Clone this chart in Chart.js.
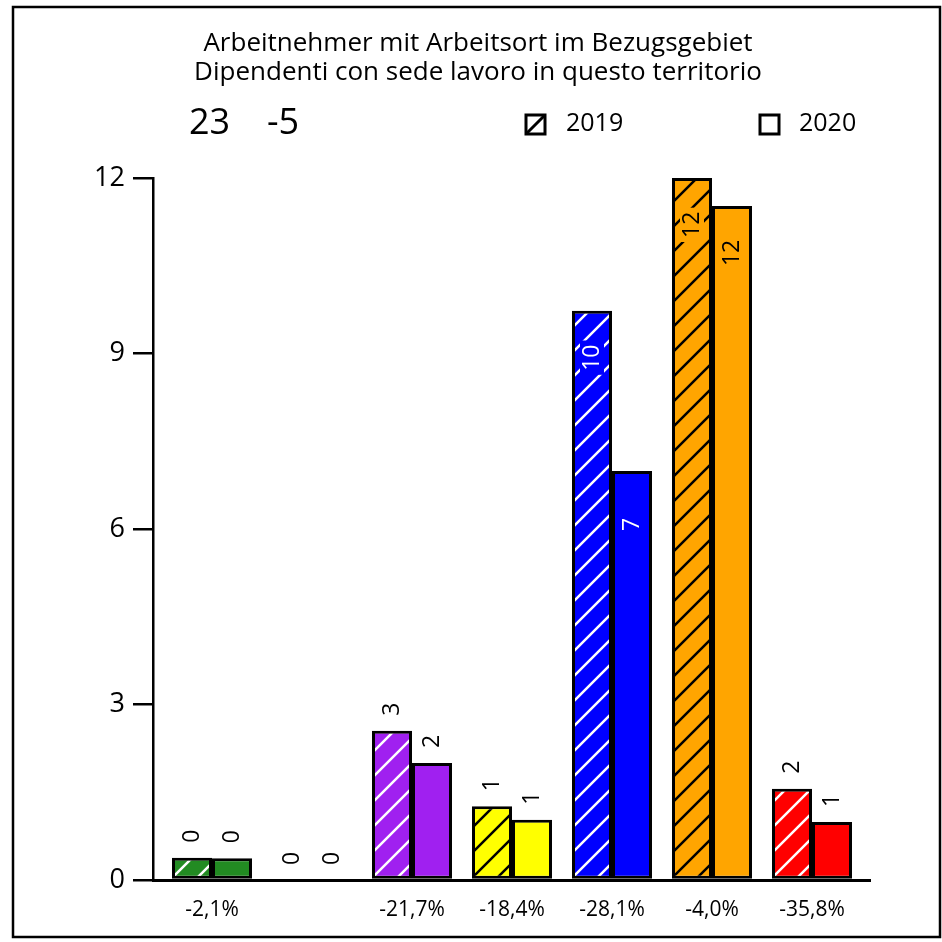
<!DOCTYPE html>
<html>
<head>
<meta charset="utf-8">
<script src="https://cdn.jsdelivr.net/npm/chart.js@4/dist/chart.umd.min.js"></script>
<style>
  html, body { margin: 0; padding: 0; background: #fff; }
</style>
</head>
<body>
<canvas id="chart" width="942" height="942"></canvas>
<script>
const FONT = '"Open Sans", "Noto Sans", sans-serif';

const titleLines = ['Arbeitnehmer mit Arbeitsort im Bezugsgebiet', 'Dipendenti con sede lavoro in questo territorio'];
const totalNow = '23';
const totalDiff = '-5';
const seriesNames = ['2019', '2020'];
const changeLabels = ['-2,1%', '', '-21,7%', '-18,4%', '-28,1%', '-4,0%', '-35,8%'];
const barColors = ['#228B22', '#999999', '#A020F0', '#FFFF00', '#0000FF', '#FFA500', '#FF0000'];
const inkColors = ['#FFFFFF', '#FFFFFF', '#FFFFFF', '#000000', '#FFFFFF', '#000000', '#FFFFFF'];
const values2019 = [0.38, 0, 2.55, 1.26, 9.73, 12.0, 1.56];
const values2020 = [0.37, 0, 2.0, 1.03, 6.99, 11.52, 0.99];
const yTicks = [0, 3, 6, 9, 12];

const canvas = document.getElementById('chart');
const ctx = canvas.getContext('2d');

function hatch(bg, fg) {
    const c = document.createElement('canvas');
    c.width = c.height = 25;
    const g = c.getContext('2d');
    g.fillStyle = bg;
    g.fillRect(0, 0, 25, 25);
    g.strokeStyle = fg;
    g.lineWidth = 2.5;
    g.beginPath();
    g.moveTo(-6, 31); g.lineTo(31, -6);
    g.moveTo(-6, 6); g.lineTo(6, -6);
    g.moveTo(19, 31); g.lineTo(31, 19);
    g.stroke();
    return ctx.createPattern(c, 'repeat');
}

const hatchFills = barColors.map((c, i) => hatch(c, inkColors[i]));

const frameAndHeader = {
    id: 'frameAndHeader',
    beforeDraw(chart) {
        const g = chart.ctx;
        g.save();
        g.fillStyle = '#fff';
        g.fillRect(0, 0, chart.width, chart.height);
        g.strokeStyle = '#000';
        g.lineWidth = 2.5;
        g.strokeRect(13, 7, 927, 930);

        g.fillStyle = '#000';
        g.textBaseline = 'middle';
        g.textAlign = 'center';
        g.font = '26px ' + FONT;
        g.fillText(titleLines[0], 478, 44);
        g.fillText(titleLines[1], 478, 73);

        g.textAlign = 'left';
        g.font = '36px ' + FONT;
        g.fillText(totalNow, 189, 124);
        g.fillText(totalDiff, 267, 124);

        // legend
        g.lineWidth = 3;
        g.strokeRect(526, 115, 19, 19);
        g.beginPath();
        g.moveTo(527, 133);
        g.lineTo(544, 116);
        g.stroke();
        g.strokeRect(760, 115, 19, 19);
        g.font = '25px ' + FONT;
        g.fillText(seriesNames[0], 566, 124);
        g.fillText(seriesNames[1], 799, 124);
        g.restore();
    }
};

const barLabels = {
    id: 'barLabels',
    afterDatasetsDraw(chart) {
        const g = chart.ctx;
        g.save();
        g.font = '23px ' + FONT;
        g.textBaseline = 'middle';
        g.textAlign = 'left';
        chart.data.datasets.forEach((ds, di) => {
            chart.getDatasetMeta(di).data.forEach((bar, i) => {
                const v = ds.data[i].y;
                const txt = String(Math.round(v));
                const w = g.measureText(txt).width;
                let start, color;
                if (v > 4) {
                    start = bar.y + 60;
                    color = inkColors[i];
                    g.fillStyle = barColors[i];
                    g.fillRect(bar.x - 12, start - w - 4, 24, w + 8);
                } else {
                    start = bar.y - 15;
                    color = '#000';
                }
                g.save();
                g.translate(bar.x, start);
                g.rotate(-Math.PI / 2);
                g.fillStyle = color;
                g.fillText(txt, 0, 0);
                g.restore();
            });
        });
        g.restore();
    }
};

new Chart(ctx, {
    type: 'bar',
    data: {
        datasets: [{
            label: seriesNames[0],
            data: values2019.map((v, i) => ({ x: i, y: v })),
            backgroundColor: hatchFills,
            borderColor: '#000',
            borderWidth: 3,
            borderSkipped: false,
            categoryPercentage: 0.8,
            barPercentage: 1
        }, {
            label: seriesNames[1],
            data: values2020.map((v, i) => ({ x: i, y: v })),
            backgroundColor: barColors,
            borderColor: '#000',
            borderWidth: 3,
            borderSkipped: false,
            categoryPercentage: 0.8,
            barPercentage: 1
        }]
    },
    options: {
        responsive: false,
        animation: false,
        layout: { padding: { top: 178, right: 72, left: 0, bottom: 0 } },
        plugins: { legend: { display: false }, tooltip: { enabled: false } },
        scales: {
            x: {
                type: 'linear',
                offset: false,
                min: -0.59,
                max: 6.58,
                afterBuildTicks: (s) => { s.ticks = changeLabels.map((_, i) => ({ value: i })); },
                afterFit: (s) => { s.height = 62; },
                grid: { display: false },
                border: { display: true, color: '#000', width: 3 },
                ticks: {
                    autoSkip: false,
                    maxRotation: 0,
                    padding: 9,
                    color: '#000',
                    font: { family: FONT, size: 21 },
                    callback: (v) => changeLabels[v] ?? ''
                }
            },
            y: {
                min: 0,
                max: 12,
                afterBuildTicks: (s) => { s.ticks = yTicks.map(v => ({ value: v })); },
                afterFit: (s) => { s.width = 153; },
                grid: { drawOnChartArea: false, drawTicks: true, tickLength: 20, color: '#000', lineWidth: 2.5 },
                border: { display: true, color: '#000', width: 2.5 },
                ticks: {
                    padding: 8,
                    color: '#000',
                    font: { family: FONT, size: 27 }
                }
            }
        }
    },
    plugins: [frameAndHeader, barLabels]
});
</script>
</body>
</html>
